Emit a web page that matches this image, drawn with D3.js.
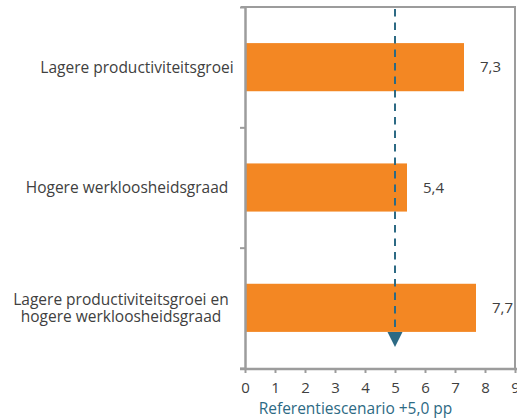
<!DOCTYPE html>
<html>
<head>
<meta charset="utf-8">
<script src="https://cdn.jsdelivr.net/npm/d3@7"></script>
<style>
  body { margin: 0; background: #fff; }
  svg { display: block; font-family: "Open Sans", sans-serif; }
</style>
</head>
<body>
<div class="chart"></div>
<script>
// data
var categories = [
    "Lagere productiviteitsgroei",
    "Hogere werkloosheidsgraad",
    "Lagere productiviteitsgroei en hogere werkloosheidsgraad"
];
var values = [7.3, 5.4, 7.7];
var valueLabels = ["7,3", "5,4", "7,7"];
var xTicks = [0, 1, 2, 3, 4, 5, 6, 7, 8, 9];
var refValue = 5.0;
var refLabel = "Referentiescenario +5,0 pp";

// category label lines (how the original wraps them)
var labelLines = [
    ["Lagere productiviteitsgroei"],
    ["Hogere werkloosheidsgraad"],
    ["Lagere productiviteitsgroei en", "hogere werkloosheidsgraad"]
];
// center x of each label block
var labelCenters = [137, 127, 121];

var width = 517, height = 418;
var plotLeft = 245, plotRight = 515, plotTop = 7, plotBottom = 368;
var fs = 15.5;
var gray = "#9c9c9c";

var svg = d3.select(".chart").append("svg")
    .attr("width", width)
    .attr("height", height);

var x = d3.scaleLinear().domain([0, 9]).range([plotLeft, plotRight]);
var y = d3.scaleBand().domain(categories).range([plotTop, plotBottom])
    .paddingInner(0.6).paddingOuter(0.3);

// frame top / right
svg.append("line")
    .attr("x1", plotLeft - 4).attr("x2", plotRight + 1).attr("y1", plotTop).attr("y2", plotTop)
    .attr("stroke", gray).attr("stroke-width", 2);
svg.append("line")
    .attr("x1", plotRight).attr("x2", plotRight).attr("y1", plotTop).attr("y2", plotBottom)
    .attr("stroke", gray).attr("stroke-width", 2);

// bars
svg.selectAll("rect.bar")
    .data(values)
    .enter()
    .append("rect")
    .attr("class", "bar")
    .attr("x", x(0) + 1)
    .attr("y", function (d, i) { return y(categories[i]); })
    .attr("width", function (d) { return x(d) - x(0) - 1; })
    .attr("height", y.bandwidth())
    .attr("fill", "#f38723");

// value labels
svg.selectAll("text.val")
    .data(values)
    .enter()
    .append("text")
    .attr("class", "val")
    .attr("x", function (d) { return x(d) + 16; })
    .attr("y", function (d, i) { return y(categories[i]) + y.bandwidth() / 2; })
    .attr("dy", "0.35em")
    .attr("font-size", 15)
    .attr("fill", "#404040")
    .text(function (d, i) { return valueLabels[i]; });

// x axis
var xAxis = svg.append("g")
    .attr("transform", "translate(0," + (plotBottom + 1) + ")")
    .call(d3.axisBottom(x).tickValues(xTicks).tickSize(4).tickSizeOuter(0).tickPadding(9));
xAxis.select(".domain").attr("stroke", gray).attr("stroke-width", 2.5)
    .attr("d", "M" + (plotLeft - 5) + ",0H" + (plotRight + 2));
xAxis.selectAll(".tick line").attr("stroke", gray).attr("stroke-width", 2);
xAxis.selectAll(".tick text").attr("font-size", 15).attr("fill", "#404040")
    .attr("font-family", "\"Open Sans\", sans-serif");

// y axis: ticks at band boundaries
var yb = d3.scaleLinear().domain([0, categories.length]).range([plotTop, plotBottom]);
var yAxis = svg.append("g")
    .attr("transform", "translate(" + plotLeft + ",0)")
    .call(d3.axisLeft(yb).tickValues(d3.range(categories.length + 1)).tickFormat("").tickSize(5).tickSizeOuter(0));
yAxis.select(".domain").attr("stroke", gray).attr("stroke-width", 2.5);
yAxis.selectAll(".tick line").attr("stroke", gray).attr("stroke-width", 2);

// category labels
categories.forEach(function (c, i) {
    var lines = labelLines[i];
    var cy = y(c) + y.bandwidth() / 2;
    var t = svg.append("text")
        .attr("text-anchor", "middle")
        .attr("font-size", fs)
        .attr("fill", "#404040");
    lines.forEach(function (l, j) {
        t.append("tspan")
            .attr("x", labelCenters[i])
            .attr("y", cy + (j - (lines.length - 1) / 2) * 16.5)
            .attr("dy", "0.35em")
            .text(l);
    });
});

// reference line with arrow head
var refColor = "#2d6a84";
var arrowTop = y(categories[2]) + y.bandwidth();
svg.append("line")
    .attr("x1", x(refValue)).attr("x2", x(refValue))
    .attr("y1", plotTop + 2).attr("y2", arrowTop)
    .attr("stroke", refColor).attr("stroke-width", 2)
    .attr("stroke-dasharray", "7.5,6");
svg.append("path")
    .attr("d", "M" + (x(refValue) - 7.5) + "," + arrowTop + "L" + (x(refValue) + 7.5) + "," + arrowTop +
        "L" + x(refValue) + "," + (arrowTop + 15) + "Z")
    .attr("fill", refColor);

svg.append("text")
    .attr("x", 355.5)
    .attr("y", 409)
    .attr("dy", "0.35em")
    .attr("text-anchor", "middle")
    .attr("font-size", fs)
    .attr("fill", refColor)
    .text(refLabel);
</script>
</body>
</html>
